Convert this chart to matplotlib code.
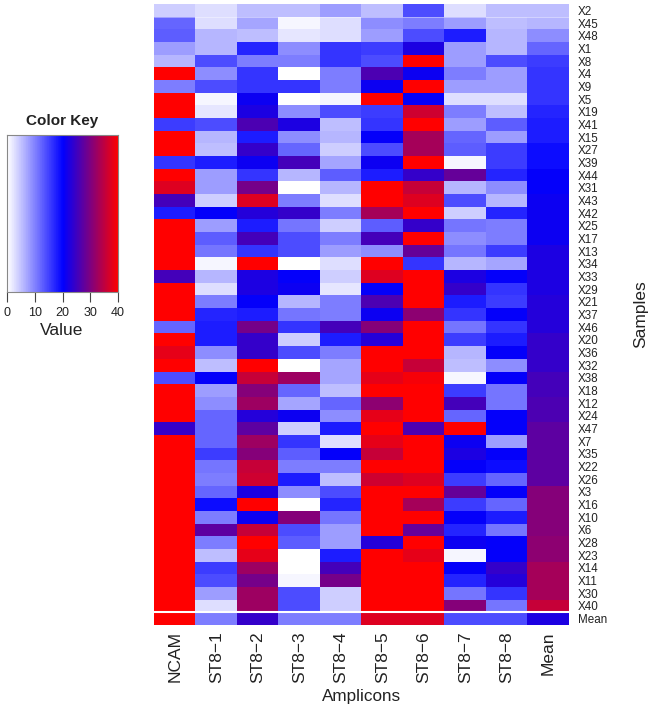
import numpy as np
import matplotlib
matplotlib.use("Agg")
import matplotlib.pyplot as plt
from matplotlib.colors import LinearSegmentedColormap

plt.rcParams['font.family'] = ['Liberation Sans', 'DejaVu Sans']

amplicons = ["NCAM", "ST8\u22121", "ST8\u22122", "ST8\u22123", "ST8\u22124",
             "ST8\u22125", "ST8\u22126", "ST8\u22127", "ST8\u22128", "Mean"]
samples = ["X2","X45","X48","X1","X8","X4","X9","X5","X19","X41","X15","X27",
           "X39","X44","X31","X43","X42","X25","X17","X13","X34","X33","X29",
           "X21","X37","X46","X20","X36","X32","X38","X18","X12","X24","X47",
           "X7","X35","X22","X26","X3","X16","X10","X6","X28","X23","X14",
           "X11","X30","X40","Mean"]
values = [
 [4,3,5,5,8,5,14,3,5,5],
 [12,3,7,1,3,9,10,8,5,6],
 [13,6,5,2,3,8,14,18,6,9],
 [8,6,17,9,16,15,22,8,6,12],
 [6,14,10,10,16,14,40,8,14,15],
 [40,9,16,0,10,26,21,10,8,16],
 [10,14,16,16,10,21,40,8,8,16],
 [40,1,21,0,1,40,20,3,3,16],
 [40,2,22,9,14,15,36,10,5,17],
 [15,14,26,22,5,16,40,8,13,18],
 [40,6,18,9,6,20,33,12,8,18],
 [40,5,24,12,4,14,33,13,15,19],
 [16,18,21,25,7,21,40,1,15,19],
 [40,8,16,6,13,18,24,28,17,20],
 [37,8,29,0,6,40,35,6,9,20],
 [25,4,37,10,3,40,37,14,6,21],
 [18,20,23,24,10,33,40,4,17,21],
 [40,8,18,11,4,13,24,11,10,21],
 [40,13,25,14,10,25,40,9,10,21],
 [40,11,16,14,8,9,28,11,15,22],
 [40,1,40,0,3,40,16,6,7,22],
 [25,6,22,20,4,37,40,22,20,22],
 [40,3,22,21,2,20,40,24,16,22],
 [40,10,20,6,10,26,40,18,15,23],
 [40,17,18,11,10,21,31,16,20,23],
 [12,18,29,16,25,30,40,11,16,23],
 [40,18,24,4,18,23,40,15,18,24],
 [38,9,24,14,10,40,40,6,20,24],
 [40,5,40,0,7,40,35,5,9,24],
 [14,20,35,32,7,38,39,1,20,25],
 [40,8,30,12,5,40,40,15,11,25],
 [40,9,32,7,12,31,40,25,11,26],
 [40,12,23,21,9,38,40,12,20,26],
 [24,12,27,4,18,40,26,40,20,27],
 [40,12,32,16,3,38,40,21,8,27],
 [40,15,30,13,20,35,40,22,20,27],
 [40,11,35,10,10,40,40,20,19,27],
 [40,10,36,18,5,36,37,15,12,27],
 [40,12,22,9,14,40,40,28,20,30],
 [40,19,40,0,17,40,33,15,12,30],
 [40,10,21,30,11,40,40,20,18,30],
 [40,27,35,14,8,40,28,17,11,30],
 [40,10,40,13,8,23,40,21,20,31],
 [40,5,38,0,18,40,38,1,20,31],
 [40,15,32,0,25,40,40,20,24,33],
 [40,14,29,1,29,40,40,17,23,33],
 [40,8,32,14,4,40,40,11,16,33],
 [40,3,32,14,4,40,40,30,11,35],
 [40,10,24,10,10,37,37,14,14,22],
]
key_ticks = [0, 10, 20, 30, 40]

W, H = 654, 710
def px_axes(l, t, r, b):
    return fig.add_axes([l / W, 1 - b / H, (r - l) / W, (b - t) / H])

cmap = LinearSegmentedColormap.from_list("wbr", ["white", "blue", "red"], N=64)
fig = plt.figure(figsize=(W / 100, H / 100), dpi=100)

ax = px_axes(154, 4, 569, 625)
data = np.array(values, dtype=float)
ax.imshow(data, cmap=cmap, vmin=0, vmax=40, aspect="auto", interpolation="nearest")
ax.axhline(len(samples) - 1.5, color="white", lw=1.5)
ax.axhline(0.5, color="white", lw=0.4, alpha=0.7)
ax.set_xticks(range(len(amplicons)), amplicons, rotation=90, fontsize=12.5, color="#222222")
ax.set_yticks(range(len(samples)), samples, fontsize=8.4, color="#222222")
ax.yaxis.tick_right()
ax.tick_params(length=0, axis="both")
ax.tick_params(axis="x", pad=4.5)
ax.tick_params(axis="y", pad=6.5)
for s in ax.spines.values():
    s.set_visible(False)
fig.text(362 / W, 1 - 696 / H, "Amplicons", ha="center", va="center", fontsize=12.3, color="#222222")
fig.text(641 / W, 1 - 314 / H, "Samples", ha="center", va="center", rotation=90, fontsize=12.5, color="#222222")

key = px_axes(7, 135, 118, 292)
grad = np.linspace(0, 40, 256)[None, :]
key.imshow(grad, cmap=cmap, vmin=0, vmax=40, aspect="auto", extent=[0, 40, 0, 1])
key.set_yticks([])
key.set_xticks(key_ticks, [str(t) for t in key_ticks], fontsize=9, color="#222222")
key.tick_params(axis="x", length=7, width=0.8, color="#444444", pad=4)
for s in key.spines.values():
    s.set_color("#888888")
    s.set_linewidth(0.8)
fig.text(62 / W, 1 - 121 / H, "Color Key", ha="center", va="center", fontsize=11, fontweight="bold", color="#222222")
fig.text(62 / W, 1 - 330 / H, "Value", ha="center", va="center", fontsize=12.5, color="#222222")

fig.savefig("out.png", dpi=100)
